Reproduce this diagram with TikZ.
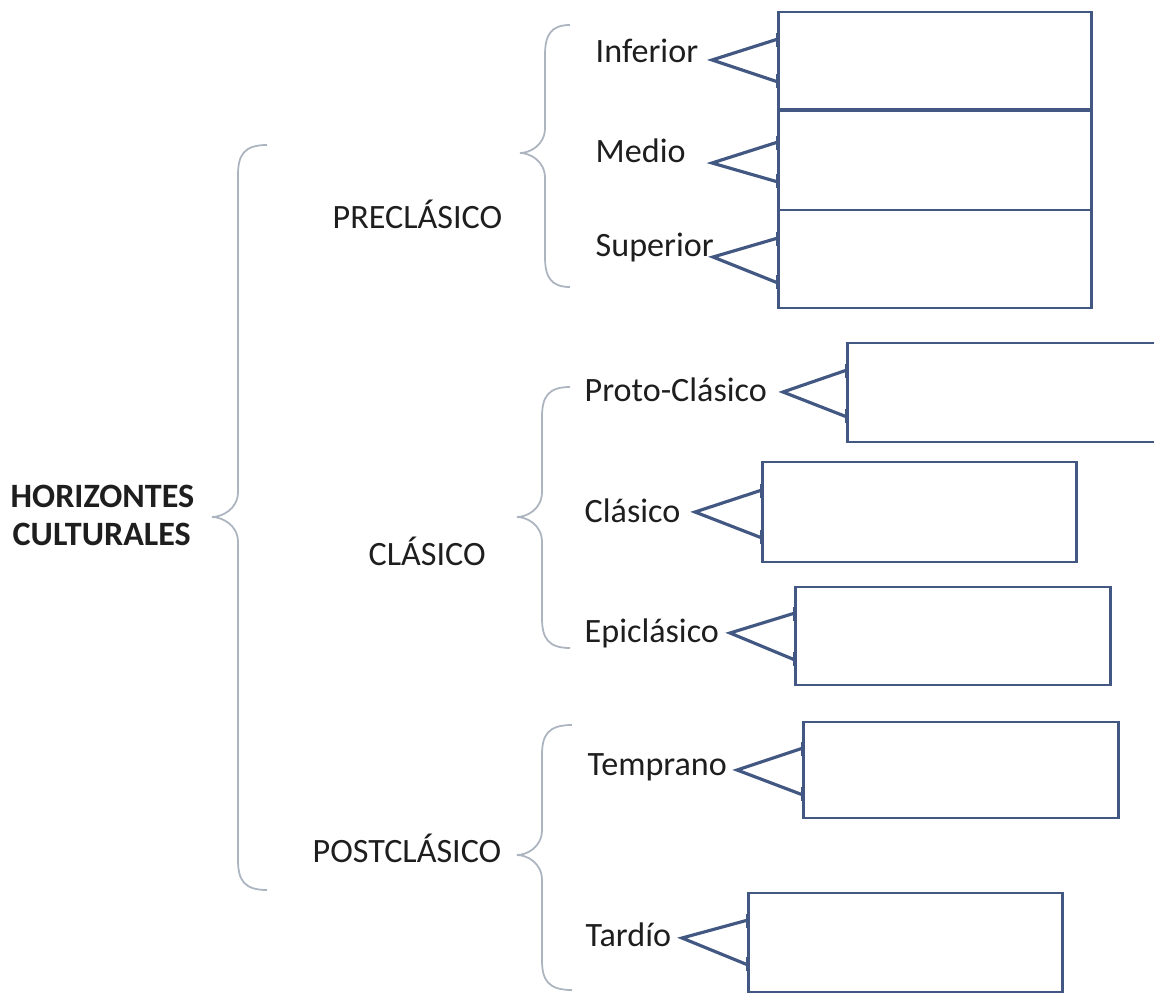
\documentclass[tikz,border=0pt]{standalone}
\usepackage{fontspec}
\setmainfont{Carlito}
\usetikzlibrary{calc}
\definecolor{boxc}{RGB}{66,88,130}
\definecolor{bracec}{RGB}{172,180,192}
\definecolor{txtc}{RGB}{30,30,30}
\tikzset{
  box/.style={draw=boxc, line width=0.85pt, inner sep=0pt, outer sep=0pt, anchor=north west},
  conn/.style={draw=boxc, line width=0.9pt},
  tickline/.style={draw=boxc, line width=1.4pt},
  lab/.style={inner sep=0pt, anchor=base west, text=txtc, font=\fontsize{9.7}{12}\selectfont},
  blab/.style={lab, font=\fontsize{9.7}{12}\selectfont\bfseries},
  brc/.style={draw=bracec, line width=0.5pt}
}
\newcommand{\cbox}[5]{\node[box, minimum width={(#4-#2)*0.01cm}, minimum height={(#5-#3)*0.01cm}] (#1) at (#2,#3) {};}
\newcommand{\conn}[4]{%
  \draw[conn] ($(#1.north west)+(0,#3)$) -- (#2) -- ($(#1.north west)+(0,#4)$);
  \draw[tickline] ($(#1.north west)+(0,#3-6)$) -- ++(0,14);
  \draw[tickline] ($(#1.north west)+(0,#4-8)$) -- ++(0,14);}
\newcommand{\bracepath}[6]{% xend, ytop, xv, xtip, ytip, ybot
  \draw[brc] (#1,#2) .. controls (#3+6,#2) and (#3,#2+10) .. (#3,#2+30)
    -- (#3,#5-25) .. controls (#3,#5-8) and (#4+10,#5) .. (#4,#5)
    .. controls (#4+10,#5) and (#3,#5+8) .. (#3,#5+25)
    -- (#3,#6-30) .. controls (#3,#6-10) and (#3+6,#6) .. (#1,#6);}
\begin{document}
\begin{tikzpicture}[x=0.01cm,y=-0.01cm]
\useasboundingbox (0,0) rectangle (1154,994);
% braces
\bracepath{267}{145}{238}{212}{517}{890}
\bracepath{570}{25}{545}{520}{153}{287}
\bracepath{570}{387}{542}{517}{517}{648}
\bracepath{572}{725}{542}{517}{855}{990}
% main labels
\node[blab] (hor) at (10,507) {HORIZONTES};
\node[blab] (cul) at (12,545) {CULTURALES};
\node[lab] (pre) at (332,229) {PRECLÁSICO};
\node[lab] (cla) at (368,565) {CLÁSICO};
\node[lab] (pos) at (312,862) {POSTCLÁSICO};
% sub labels
\node[lab] (linf) at (595,63) {Inferior};
\node[lab] (lmed) at (595,163) {Medio};
\node[lab] (lsup) at (595,257) {Superior};
\node[lab] (lpro) at (584,401) {Proto-Clásico};
\node[lab] (lcla) at (584,522) {Clásico};
\node[lab] (lepi) at (584,642) {Epiclásico};
\node[lab] (ltem) at (587,775) {Temprano};
\node[lab] (ltar) at (585,946) {Tardío};
% boxes
\cbox{binf}{778}{12}{1091}{110}
\cbox{bmed}{778}{110}{1091}{210}
\cbox{bsup}{778}{210}{1091}{308}
\cbox{bpro}{847}{343}{1175}{442}
\cbox{bcla}{762}{462}{1076}{562}
\cbox{bepi}{795}{587}{1110}{685}
\cbox{btem}{803}{722}{1118}{818}
\cbox{btar}{748}{893}{1062}{992}
\draw[boxc, line width=1.4pt] (binf.south west) -- (binf.south east);
% apex points
\coordinate (ainf) at (712,60);
\coordinate (amed) at (712,163);
\coordinate (asup) at (713,257);
\coordinate (apro) at (783,392);
\coordinate (acla) at (695,512);
\coordinate (aepi) at (730,633);
\coordinate (atem) at (737,770);
\coordinate (atar) at (682,938);
% connectors
\conn{binf}{ainf}{27}{70}
\conn{bmed}{amed}{32}{72}
\conn{bsup}{asup}{28}{73}
\conn{bpro}{apro}{27}{74}
\conn{bcla}{acla}{28}{76}
\conn{bepi}{aepi}{26}{73}
\conn{btem}{atem}{26}{73}
\conn{btar}{atar}{27}{72}
\end{tikzpicture}
\end{document}
